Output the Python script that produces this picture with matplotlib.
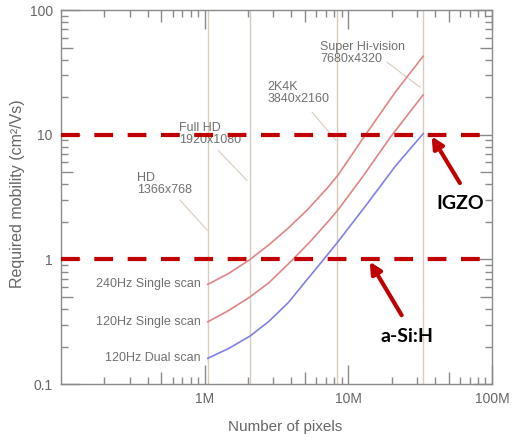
import numpy as np
import matplotlib.pyplot as plt
from matplotlib.ticker import LogLocator, NullFormatter

plt.rcParams['font.family'] = ['Liberation Sans', 'DejaVu Sans']

# display formats (vertical guide lines)
formats = ['HD', 'Full HD', '2K4K', 'Super Hi-vision']
widths = [1366, 1920, 3840, 7680]
heights = [768, 1080, 2160, 4320]

# required mobility curves, pixel counts in millions
pix_240 = [1.05, 1.466, 2.07, 2.81, 3.83, 5.22, 7.11, 8.51, 12.9, 21.3, 33.2]
mob_240 = [0.631, 0.771, 1.0, 1.315, 1.79, 2.52, 3.72, 4.78, 9.66, 22.1, 42.7]
pix_120 = [1.05, 1.466, 2.07, 2.81, 4.03, 5.50, 7.11, 8.51, 12.9, 19.6, 33.2]
mob_120 = [0.316, 0.389, 0.501, 0.653, 0.977, 1.413, 1.972, 2.51, 4.79, 9.55, 20.9]
pix_dual = [1.05, 1.466, 2.07, 2.81, 3.83, 5.22, 6.68, 8.51, 13.7, 21.3, 33.2]
mob_dual = [0.161, 0.193, 0.243, 0.320, 0.452, 0.700, 0.989, 1.396, 2.85, 5.62, 10.2]

# TFT material mobility levels
materials = ['IGZO', 'a-Si:H']
mat_levels = [10, 1]

red = '#c00000'
guide = '#d9ccbe'
grey_txt = '#707070'

fig = plt.figure(figsize=(5.13, 4.38), dpi=100)
ax = fig.add_axes([0.119, 0.123, 0.840, 0.854])
ax.set_xscale('log')
ax.set_yscale('log')
ax.set_xlim(1e5, 1e8)
ax.set_ylim(0.1, 100)

pixels = [w * h for w, h in zip(widths, heights)]
for p in pixels:
    ax.axvline(p, color=guide, lw=1.0, zorder=1)

M = 1e6
ax.plot(np.array(pix_240) * M, mob_240, color='#e08585', lw=1.2, zorder=2)
ax.plot(np.array(pix_120) * M, mob_120, color='#e08585', lw=1.2, zorder=2)
ax.plot(np.array(pix_dual) * M, mob_dual, color='#8080e6', lw=1.2, zorder=2)

for lab, xs, ys in [('240Hz Single scan', pix_240, mob_240),
                    ('120Hz Single scan', pix_120, mob_120),
                    ('120Hz Dual scan', pix_dual, mob_dual)]:
    ax.annotate(lab, xy=(xs[0] * M, ys[0]), xytext=(-5, 0), textcoords='offset points',
                ha='right', va='center', fontsize=9, color=grey_txt)

# format labels with leader lines
txt_pos = [(3.38e5, 4.0), (6.62e5, 10.1), (2.72e6, 21.6), (6.34e6, 45)]
lead_from = [(6.73e5, 2.99), (1.24e6, 7.5), (5.58e6, 15.2), (18.6e6, 38.2)]
lead_to = [(1.04e6, 1.72), (1.97e6, 4.3), (8.2e6, 9.06), (31.5e6, 24.1)]
for name, w, h, tp, lf, lt in zip(formats, widths, heights, txt_pos, lead_from, lead_to):
    ax.text(tp[0], tp[1], f'{name}\n{w}x{h}', fontsize=9, color=grey_txt,
            ha='left', va='center', linespacing=1.0, zorder=3)
    ax.plot([lf[0], lt[0]], [lf[1], lt[1]], color=guide, lw=0.8, zorder=1)

for lv in mat_levels:
    ax.axhline(lv, color=red, lw=3, dashes=(4.5, 3.5), zorder=4)

# material arrows
arrow_tip = [(3.8e7, 9.7), (1.41e7, 0.96)]
arrow_tail = [(5.98e7, 4.1), (2.35e7, 0.357)]
label_pos = [(5.98e7, 2.83), (2.55e7, 0.24)]
for mat, tip, tail, lp in zip(materials, arrow_tip, arrow_tail, label_pos):
    ax.annotate('', xy=tip, xytext=tail,
                arrowprops=dict(arrowstyle='-|>', color=red, lw=3,
                                mutation_scale=17, shrinkA=0, shrinkB=0), zorder=5)
    ax.text(lp[0], lp[1], mat, fontsize=14, fontweight='bold', family='Lato',
            ha='center', va='center', color='black', zorder=5)

ax.set_xticks([1e6, 1e7, 1e8], ['1M', '10M', '100M'])
ax.set_yticks([0.1, 1, 10, 100], ['0.1', '1', '10', '100'])
for axis in (ax.xaxis, ax.yaxis):
    axis.set_minor_locator(LogLocator(base=10, subs=np.arange(2, 10), numticks=20))
    axis.set_minor_formatter(NullFormatter())

ax.tick_params(which='both', direction='in', top=True, right=True,
               color='#8a8a8a', labelcolor='#666666', labelsize=10, pad=6)
ax.tick_params(which='major', length=13.5, width=1)
ax.tick_params(which='minor', length=5, width=1)
for s in ax.spines.values():
    s.set_color('#8a8a8a')
    s.set_linewidth(1)

ax.set_xlabel('Number of pixels', fontsize=11, color='#666666')
ax.set_ylabel('Required mobility (cm²/Vs)', fontsize=11.5, color='#666666')
ax.xaxis.set_label_coords(0.52, -0.095)
ax.yaxis.set_label_coords(-0.084, 0.51)

# longer minor ticks at the 5x positions
fig.canvas.draw()
for axis in (ax.xaxis, ax.yaxis):
    locs = axis.get_minorticklocs()
    ticks = axis.get_minor_ticks(len(locs))
    for loc, t in zip(locs, ticks):
        if abs(loc / 10 ** np.floor(np.log10(loc)) - 5) < 1e-6:
            t.tick1line.set_markersize(8.6)
            t.tick2line.set_markersize(8.6)

fig.savefig('out.png', dpi=100)
